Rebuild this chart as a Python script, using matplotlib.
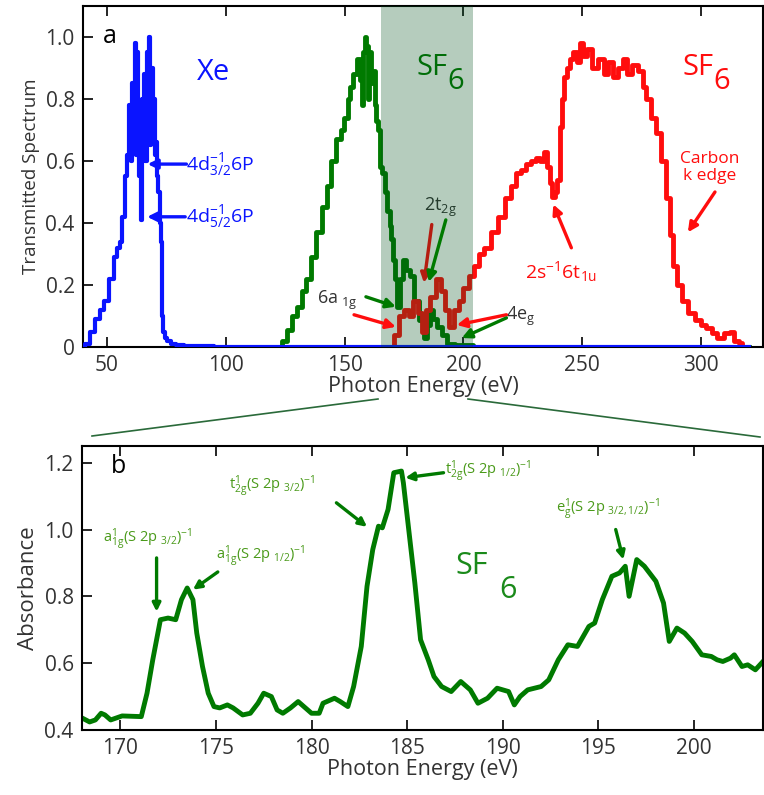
import numpy as np
import matplotlib
matplotlib.use("Agg")
from matplotlib import pyplot as plt
from matplotlib.lines import Line2D

plt.rcParams['font.family'] = ['Open Sans', 'DejaVu Sans']
plt.rcParams['mathtext.fontset'] = 'custom'
plt.rcParams['mathtext.rm'] = 'Open Sans'
plt.rcParams['mathtext.it'] = 'Open Sans'

# ---------------- panel a data (transmitted spectrum) ----------------
xe_energy = [40, 42, 44, 46, 48, 50, 52, 54, 55, 56, 57, 58, 59, 60, 60.5, 61, 61.5, 62, 62.5,
             63, 63.5, 64, 64.5, 65, 65.5, 66, 66.5, 67, 67.5, 68, 68.5, 69, 69.5, 70, 70.5,
             71, 71.5, 72, 72.5, 73, 73.5, 74, 75, 76, 78, 80, 85, 90, 100, 320]
xe_trans = [0, 0.01, 0.05, 0.09, 0.12, 0.15, 0.22, 0.29, 0.32, 0.34, 0.42, 0.55, 0.62, 0.78, 0.6,
            0.85, 0.65, 0.98, 0.62, 0.95, 0.7, 0.55, 0.41, 0.8, 0.62, 0.88, 0.6, 0.95, 0.7, 1.0,
            0.65, 0.9, 0.7, 0.8, 0.62, 0.66, 0.55, 0.5, 0.4, 0.34, 0.1, 0.05, 0.03, 0.02, 0.01,
            0.005, 0.003, 0.002, 0.0, 0.0]

sf6_energy = [122.5, 124.5, 126.7, 129, 131, 133, 135, 137, 139.3, 141.5, 143.5, 145.5, 147.7,
              149, 150.6, 152, 153, 154.5, 156, 157, 157.6, 158.3, 159, 159.4, 160, 160.8, 161.5,
              162.4, 163, 163.6, 164.5, 165.3, 166.3, 167.4, 168.5, 169.5, 170, 171, 171.6, 172.8,
              174, 174.9, 176.5, 178.3, 180.5, 182.5, 184, 185.2, 186.3, 188, 189.6, 192,
              194.6, 198, 210, 320]
sf6_trans = [0, 0.02, 0.055, 0.1, 0.13, 0.18, 0.22, 0.29, 0.37, 0.45, 0.52, 0.6, 0.67, 0.7, 0.74,
             0.8, 0.84, 0.88, 0.93, 0.86, 0.78, 0.95, 1.0, 0.97, 0.8, 0.95, 0.85, 0.89, 0.78, 0.73,
             0.7, 0.58, 0.56, 0.5, 0.44, 0.39, 0.35, 0.28, 0.22, 0.13, 0.22, 0.28, 0.25, 0.23,
             0.15, 0.087, 0.03, 0.07, 0.12, 0.09, 0.065, 0.04, 0.01, 0.005, 0.0, 0.0]

red_energy = [170, 172, 174, 176, 178, 180, 181.5, 183.3, 185, 187, 189.6, 191.5, 193, 195, 197,
              199, 201, 203.5, 205.5, 207.6, 210, 213.5, 216, 219, 221, 223.2, 225, 227.4, 229.5,
              231.6, 233, 234.5, 235.8, 236.8, 237.8, 239, 240, 241.2, 242.1, 242.9, 244, 245.4,
              247, 248.5, 249.6, 251, 253, 255, 258, 260, 262, 264, 266.4, 268, 270, 272, 274.7,
              276, 277.7, 280, 281.9, 284, 286, 287.5, 289, 291, 293, 296, 298.6, 301, 303,
              305.7, 308, 311, 313, 315, 316.7, 318]
red_trans = [0.0, 0.04, 0.1, 0.12, 0.1, 0.15, 0.11, 0.05, 0.12, 0.16, 0.22, 0.18, 0.12, 0.065,
             0.12, 0.15, 0.19, 0.23, 0.26, 0.3, 0.32, 0.37, 0.42, 0.48, 0.52, 0.56, 0.57, 0.59,
             0.6, 0.61, 0.6, 0.63, 0.58, 0.53, 0.485, 0.5, 0.54, 0.71, 0.8, 0.87, 0.9, 0.93, 0.95,
             0.92, 0.98, 0.94, 0.96, 0.9, 0.93, 0.88, 0.92, 0.87, 0.9, 0.93, 0.88, 0.91, 0.89,
             0.84, 0.8, 0.74, 0.69, 0.6, 0.48, 0.36, 0.26, 0.2, 0.15, 0.11, 0.087, 0.07, 0.06,
             0.045, 0.03, 0.045, 0.05, 0.02, 0.013, 0.0]

# ---------------- panel b data (absorbance) ----------------
abs_energy = [168.0, 168.4, 168.7, 169.0, 169.2, 169.5, 170.1, 171.1, 171.4, 171.7, 172.1, 172.5,
              172.9, 173.2, 173.5, 173.8, 174.0, 174.3, 174.6, 174.9, 175.2, 175.6, 175.9, 176.4,
              176.8, 177.2, 177.5, 177.9, 178.2, 178.5, 178.9, 179.3, 179.6, 180.0, 180.4, 180.6,
              181.2, 181.5, 181.9, 182.2, 182.6, 182.9, 183.2, 183.5, 183.7, 184.0, 184.3, 184.7,
              184.8, 185.1, 185.4, 185.7, 186.1, 186.4, 186.8, 187.3, 187.8, 188.3, 188.7, 189.2,
              189.7, 190.3, 190.6, 190.9, 191.3, 192.0, 192.4, 192.9, 193.4, 193.9, 194.5, 194.8,
              195.2, 195.7, 196.1, 196.4, 196.6, 197.0, 197.4, 198.0, 198.4, 198.7, 199.1, 199.5,
              199.9, 200.4, 200.9, 201.2, 201.5, 201.9, 202.1, 202.5, 202.8, 203.2, 203.6]
absorbance = [0.436, 0.424, 0.43, 0.45, 0.445, 0.43, 0.442, 0.44, 0.51, 0.61, 0.73, 0.735, 0.73,
              0.79, 0.825, 0.79, 0.69, 0.59, 0.51, 0.47, 0.466, 0.475, 0.466, 0.445, 0.45, 0.48,
              0.51, 0.5, 0.46, 0.45, 0.466, 0.485, 0.47, 0.45, 0.45, 0.48, 0.495, 0.485, 0.47,
              0.53, 0.65, 0.83, 0.94, 1.01, 1.005, 1.06, 1.17, 1.175, 1.14, 0.99, 0.84, 0.67,
              0.61, 0.56, 0.53, 0.515, 0.545, 0.52, 0.48, 0.495, 0.525, 0.515, 0.475, 0.5, 0.52,
              0.53, 0.55, 0.61, 0.655, 0.65, 0.71, 0.72, 0.79, 0.86, 0.87, 0.89, 0.80, 0.91, 0.89,
              0.845, 0.78, 0.665, 0.705, 0.69, 0.665, 0.625, 0.62, 0.61, 0.605, 0.615, 0.625,
              0.59, 0.595, 0.58, 0.605]

shade_range = (165.3, 203.9)

blue = '#0a14ff'
green = '#007a00'
red = '#ff0d0d'
txt_green = '#4a9a1a'
dark = '#333333'

fig = plt.figure(figsize=(7.64, 7.95), dpi=100)
ax1 = fig.add_axes([0.1086, 0.5635, 0.8901, 0.4290])
ax2 = fig.add_axes([0.1073, 0.0818, 0.8914, 0.3572])

# ----- panel a -----
ax1.plot(xe_energy, xe_trans, color=blue, lw=3, zorder=3, drawstyle='steps-mid')
ax1.plot(sf6_energy, sf6_trans, color=green, lw=3.5, zorder=2, drawstyle='steps-mid')
ax1.plot(red_energy, red_trans, color=red, lw=3.5, zorder=2, drawstyle='steps-mid')
ax1.axvspan(shade_range[0], shade_range[1], color='#00501e', alpha=0.29, lw=0, zorder=4)
ax1.set_xlim(40, 326)
ax1.set_ylim(0, 1.1)
ax1.set_xticks([50, 100, 150, 200, 250, 300])
ax1.set_yticks([0, 0.2, 0.4, 0.6, 0.8, 1.0])
ax1.set_yticklabels(['0', '0.2', '0.4', '0.6', '0.8', '1.0'])
ax1.set_xlabel('Photon Energy (eV)', fontsize=15.5, color=dark, labelpad=0)
ax1.set_ylabel('Transmitted Spectrum', fontsize=13.5, color=dark, labelpad=4)

ax1.text(48.3, 1.0, 'a', fontsize=18, color='black', va='center')
ax1.text(88, 0.885, 'Xe', fontsize=21, color=blue, va='center')
ax1.text(180.4, 0.9, 'SF', fontsize=21, color=green, va='center')
ax1.text(193.4, 0.855, '6', fontsize=21, color=green, va='center')
ax1.text(292.3, 0.9, 'SF', fontsize=21, color=red, va='center')
ax1.text(305, 0.855, '6', fontsize=21, color=red, va='center')
ax1.text(303.7, 0.58, 'Carbon\nk edge', fontsize=12.5, color=red, ha='center', va='center',
         linespacing=1.1)
ax1.text(226, 0.245, r'2s$^{-1}$6t$_{1\mathrm{u}}$', fontsize=14, color=red, va='center')
ax1.text(83.5, 0.59, r'4d$^{-1}_{3/2}$6P', fontsize=14, color=blue, va='center')
ax1.text(83.5, 0.42, r'4d$^{-1}_{5/2}$6P', fontsize=14, color=blue, va='center')
ax1.text(183.3, 0.45, r'2t$_{2\mathrm{g}}$', fontsize=13, color=dark, va='center')
ax1.text(138.5, 0.15, r'6a$_{\ \mathrm{1g}}$', fontsize=13, color=dark, va='center')
ax1.text(218, 0.1, r'4e$_{\mathrm{g}}$', fontsize=13, color=dark, va='center')

arr = dict(arrowstyle='-|>', lw=2.4, mutation_scale=14, shrinkA=0, shrinkB=0)
for xy, xyt, c in [((67.2, 0.59), (83.5, 0.59), blue),
                   ((67.0, 0.42), (83.0, 0.42), blue),
                   ((294.4, 0.37), (305.8, 0.5), red),
                   ((237.8, 0.46), (245.4, 0.32), red),
                   ((183.4, 0.207), (186.7, 0.395), '#b51c10'),
                   ((185.4, 0.21), (192.6, 0.41), green),
                   ((171.6, 0.13), (159, 0.162), green),
                   ((171.6, 0.065), (154, 0.104), red),
                   ((197.2, 0.071), (218.1, 0.104), red),
                   ((199.3, 0.029), (218.1, 0.094), green)]:
    ax1.annotate('', xy=xy, xytext=xyt, arrowprops=dict(arr, color=c), zorder=5)

# ----- panel b -----
ax2.plot(abs_energy, absorbance, color=green, lw=3.5)
ax2.set_xlim(168, 203.6)
ax2.set_ylim(0.4, 1.25)
ax2.set_xticks([170, 175, 180, 185, 190, 195, 200])
ax2.set_yticks([0.4, 0.6, 0.8, 1.0, 1.2])
ax2.set_xlabel('Photon Energy (eV)', fontsize=15.5, color=dark, labelpad=0)
ax2.set_ylabel('Absorbance', fontsize=16, color=dark, labelpad=4)

ax2.text(169.5, 1.19, 'b', fontsize=18, color='black', va='center')
ax2.text(187.5, 0.891, 'SF', fontsize=22, color='#1a8a1a', va='center')
ax2.text(189.8, 0.82, '6', fontsize=22, color='#1a8a1a', va='center')
lab = dict(fontsize=10.5, color=txt_green, va='center')
ax2.text(169.1, 0.97, r'a$^{1}_{\mathrm{1g}}$(S 2p $_{3/2}$)$^{-1}$', **lab)
ax2.text(175.0, 0.92, r'a$^{1}_{\mathrm{1g}}$(S 2p $_{1/2}$)$^{-1}$', **lab)
ax2.text(175.7, 1.13, r't$^{1}_{\mathrm{2g}}$(S 2p $_{3/2}$)$^{-1}$', **lab)
ax2.text(187.0, 1.175, r't$^{1}_{\mathrm{2g}}$(S 2p $_{1/2}$)$^{-1}$', **lab)
ax2.text(192.8, 1.06, r'e$^{1}_{\mathrm{g}}$(S 2p $_{3/2,1/2}$)$^{-1}$', **lab)

arr2 = dict(arrowstyle='-|>', lw=2.4, mutation_scale=12, shrinkA=0, shrinkB=0, color=green)
for xy, xyt in [((171.9, 0.754), (171.9, 0.915)),
                ((173.8, 0.82), (175.1, 0.873)),
                ((182.9, 1.008), (181.3, 1.08)),
                ((184.9, 1.155), (186.9, 1.17)),
                ((196.3, 0.91), (195.9, 1.0))]:
    ax2.annotate('', xy=xy, xytext=xyt, arrowprops=arr2)

for ax in (ax1, ax2):
    ax.tick_params(direction='in', top=True, length=7, width=1.2, labelsize=15,
                   labelcolor=dark, pad=6)
    for s in ax.spines.values():
        s.set_linewidth(1.5)

# connector lines between the shaded band and panel b
lc = '#2a6a3a'
fig.add_artist(Line2D([92 / 764, 378 / 764], [1 - 436 / 795, 1 - 399 / 795],
                      color=lc, lw=1.2, transform=fig.transFigure))
fig.add_artist(Line2D([468 / 764, 760 / 764], [1 - 399 / 795, 1 - 437 / 795],
                      color=lc, lw=1.2, transform=fig.transFigure))

plt.savefig('out.png', dpi=100)
